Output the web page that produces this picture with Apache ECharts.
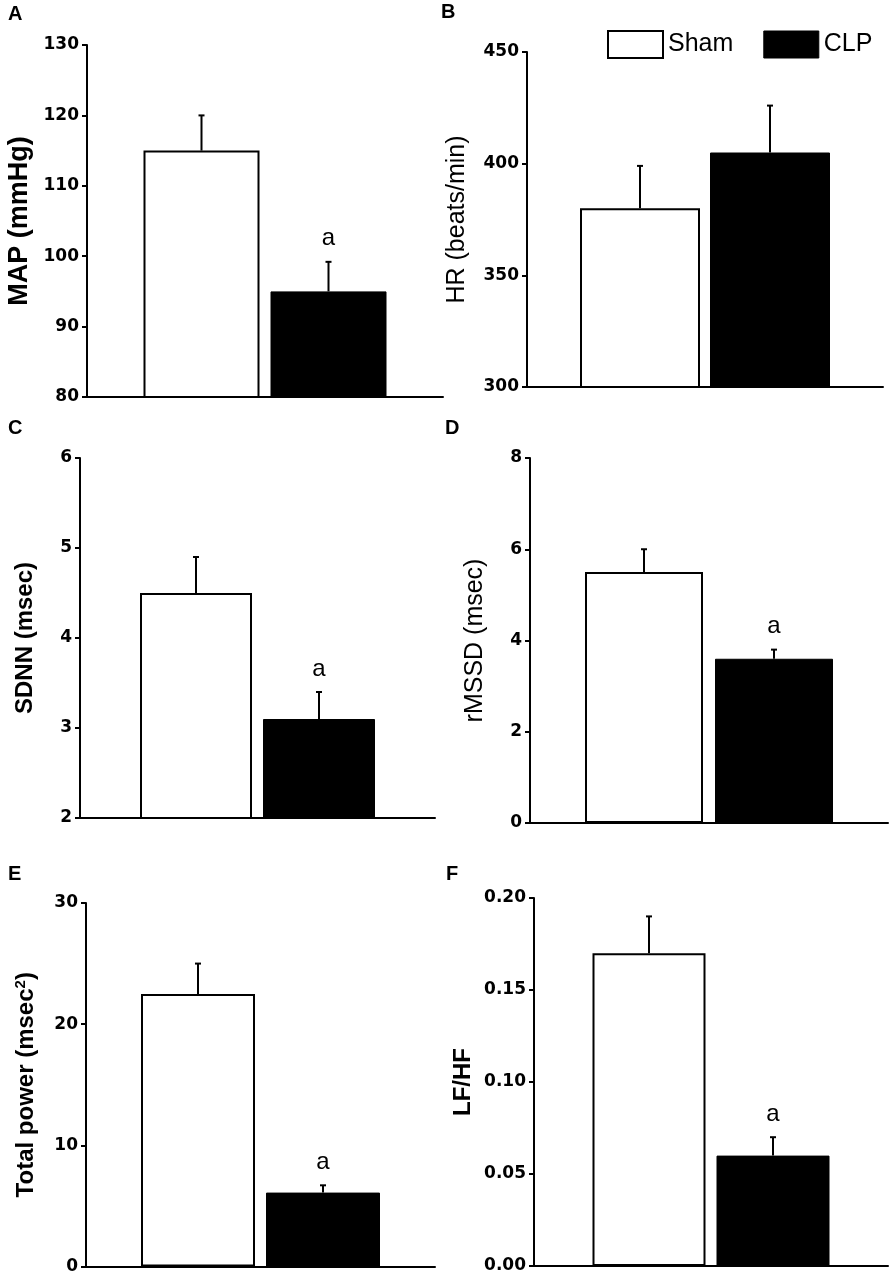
<!DOCTYPE html>
<html>
<head>
<meta charset="utf-8">
<script src="https://cdn.jsdelivr.net/npm/echarts@6/dist/echarts.min.js"></script>
<style>
    html, body {margin: 0; padding: 0; background: #fff;}
    #main {width: 892px; height: 1275px;}
</style>
</head>
<body>
<div id="main"></div>
<script>
    // values (mean and SEM per group)
    var groups = ['Sham', 'CLP'];
    var panelLetters = ['A', 'B', 'C', 'D', 'E', 'F'];
    var yNames = ['MAP (mmHg)', 'HR (beats/min)', 'SDNN (msec)', 'rMSSD (msec)',
        '{b|Total power (msec}{sup|2}{b|)}', 'LF/HF'];
    var yMin = [80, 300, 2, 0, 0, 0];
    var yMax = [130, 450, 6, 8, 30, 0.20];
    var yStep = [10, 50, 1, 2, 10, 0.05];
    var shamMean = [115, 380, 4.5, 5.5, 22.5, 0.17];
    var shamSem = [5, 19, 0.4, 0.5, 2.5, 0.02];
    var clpMean = [95, 405, 3.1, 3.6, 6.1, 0.06];
    var clpSem = [4.2, 21, 0.3, 0.2, 0.6, 0.01];
    var clpMark = ['a', '', 'a', 'a', 'a', 'a'];

    // layout of each panel (pixels)
    var layout = [
        {left: 87, top: 45, width: 356, height: 352, bw: 116, gap: 11, nameGap: 54, nameSize: 27, nameWeight: 'bold', dec: 0, letter: [8, 4]},
        {left: 527, top: 52, width: 356, height: 335, bw: 120, gap: 10, nameGap: 57, nameSize: 25, nameWeight: 'normal', dec: 0, letter: [441, 2]},
        {left: 80, top: 458, width: 355, height: 360, bw: 112, gap: 11, nameGap: 43, nameSize: 24, nameWeight: 'bold', dec: 0, letter: [8, 418]},
        {left: 530, top: 458, width: 358, height: 365, bw: 118, gap: 12, nameGap: 42, nameSize: 25, nameWeight: 'normal', dec: 0, letter: [445, 418]},
        {left: 86, top: 903, width: 349, height: 364, bw: 114, gap: 11, nameGap: 46, nameSize: 24, nameWeight: 'bold', dec: 0, letter: [8, 864]},
        {left: 534, top: 898, width: 354, height: 368, bw: 113, gap: 11, nameGap: 59, nameSize: 24, nameWeight: 'bold', dec: 2, letter: [446, 864]}
    ];

    var sansFont = '"Liberation Sans", Arial, sans-serif';
    var tickFont = '"DejaVu Sans", sans-serif';

    var chart = echarts.init(document.getElementById('main'));

    var grids = [], xAxes = [], yAxes = [], titles = [], series = [];

    layout.forEach(function (lay, i) {
        grids.push({left: lay.left, top: lay.top, width: lay.width, height: lay.height});
        titles.push({
            text: panelLetters[i], left: lay.letter[0], top: lay.letter[1], padding: 0,
            textStyle: {fontFamily: sansFont, fontSize: 20, fontWeight: 'bold', color: '#000'}
        });
        xAxes.push({
            type: 'category', gridIndex: i, data: [''],
            axisLine: {lineStyle: {color: '#000', width: 2}},
            axisTick: {show: false}, axisLabel: {show: false}
        });
        yAxes.push({
            type: 'value', gridIndex: i, min: yMin[i], max: yMax[i], interval: yStep[i],
            name: yNames[i], nameLocation: 'middle', nameGap: lay.nameGap,
            nameTextStyle: {
                fontFamily: sansFont, fontSize: lay.nameSize, fontWeight: lay.nameWeight, color: '#000',
                rich: {
                    b: {fontFamily: sansFont, fontSize: lay.nameSize, fontWeight: 'bold', color: '#000'},
                    sup: {fontFamily: sansFont, fontSize: 15, fontWeight: 'bold', color: '#000', padding: [0, 0, 12, 0]}
                }
            },
            splitLine: {show: false},
            axisLine: {show: true, lineStyle: {color: '#000', width: 2}},
            axisTick: {show: true, length: 5, lineStyle: {color: '#000', width: 2}},
            axisLabel: {
                margin: 8, color: '#000', fontFamily: tickFont, fontSize: 17, fontWeight: 'bold',
                formatter: function (v) { return v.toFixed(lay.dec); }
            }
        });
        var gapPct = (lay.gap / lay.bw * 100) + '%';
        series.push({
            name: groups[0], type: 'bar', xAxisIndex: i, yAxisIndex: i,
            data: [shamMean[i]], barWidth: lay.bw, barGap: gapPct,
            itemStyle: {color: '#fff', borderColor: '#000', borderWidth: 2}
        });
        series.push({
            name: groups[1], type: 'bar', xAxisIndex: i, yAxisIndex: i,
            data: [clpMean[i]], barWidth: lay.bw, barGap: gapPct,
            itemStyle: {color: '#000', borderColor: '#000', borderWidth: 1}
        });
        series.push({
            name: 'err' + i, type: 'custom', xAxisIndex: i, yAxisIndex: i, z: 5,
            encode: {x: 0, y: 1},
            data: [[0, shamMean[i], shamSem[i], -1], [0, clpMean[i], clpSem[i], 1]],
            renderItem: function (params, api) {
                var side = api.value(3);
                var mean = api.value(1), sem = api.value(2);
                var p0 = api.coord([0, mean]);
                var p1 = api.coord([0, mean + sem]);
                var x = p0[0] + side * (lay.bw + lay.gap) / 2;
                var children = [
                    {type: 'line', shape: {x1: x, y1: p0[1], x2: x, y2: p1[1]}, style: {stroke: '#000', lineWidth: 2}},
                    {type: 'line', shape: {x1: x - 3, y1: p1[1], x2: x + 3, y2: p1[1]}, style: {stroke: '#000', lineWidth: 2}}
                ];
                if (side === 1 && clpMark[i]) {
                    children.push({
                        type: 'text',
                        style: {
                            x: x, y: p1[1] - 11, text: clpMark[i], align: 'center', verticalAlign: 'bottom',
                            fontFamily: sansFont, fontSize: 24, fill: '#000'
                        }
                    });
                }
                return {type: 'group', children: children};
            }
        });
    });

    var option = {
        animation: false,
        backgroundColor: '#fff',
        title: titles,
        grid: grids,
        xAxis: xAxes,
        yAxis: yAxes,
        legend: {
            left: 607, top: 30, padding: 0, itemWidth: 55, itemHeight: 27, itemGap: 30, icon: 'rect',
            textStyle: {fontFamily: sansFont, fontSize: 25, color: '#000'},
            data: [
                {name: 'Sham', itemStyle: {color: '#fff', borderColor: '#000', borderWidth: 2}},
                {name: 'CLP', itemStyle: {color: '#000', borderColor: '#000', borderWidth: 1}}
            ]
        },
        series: series
    };
    chart.setOption(option);
</script>
</body>
</html>
